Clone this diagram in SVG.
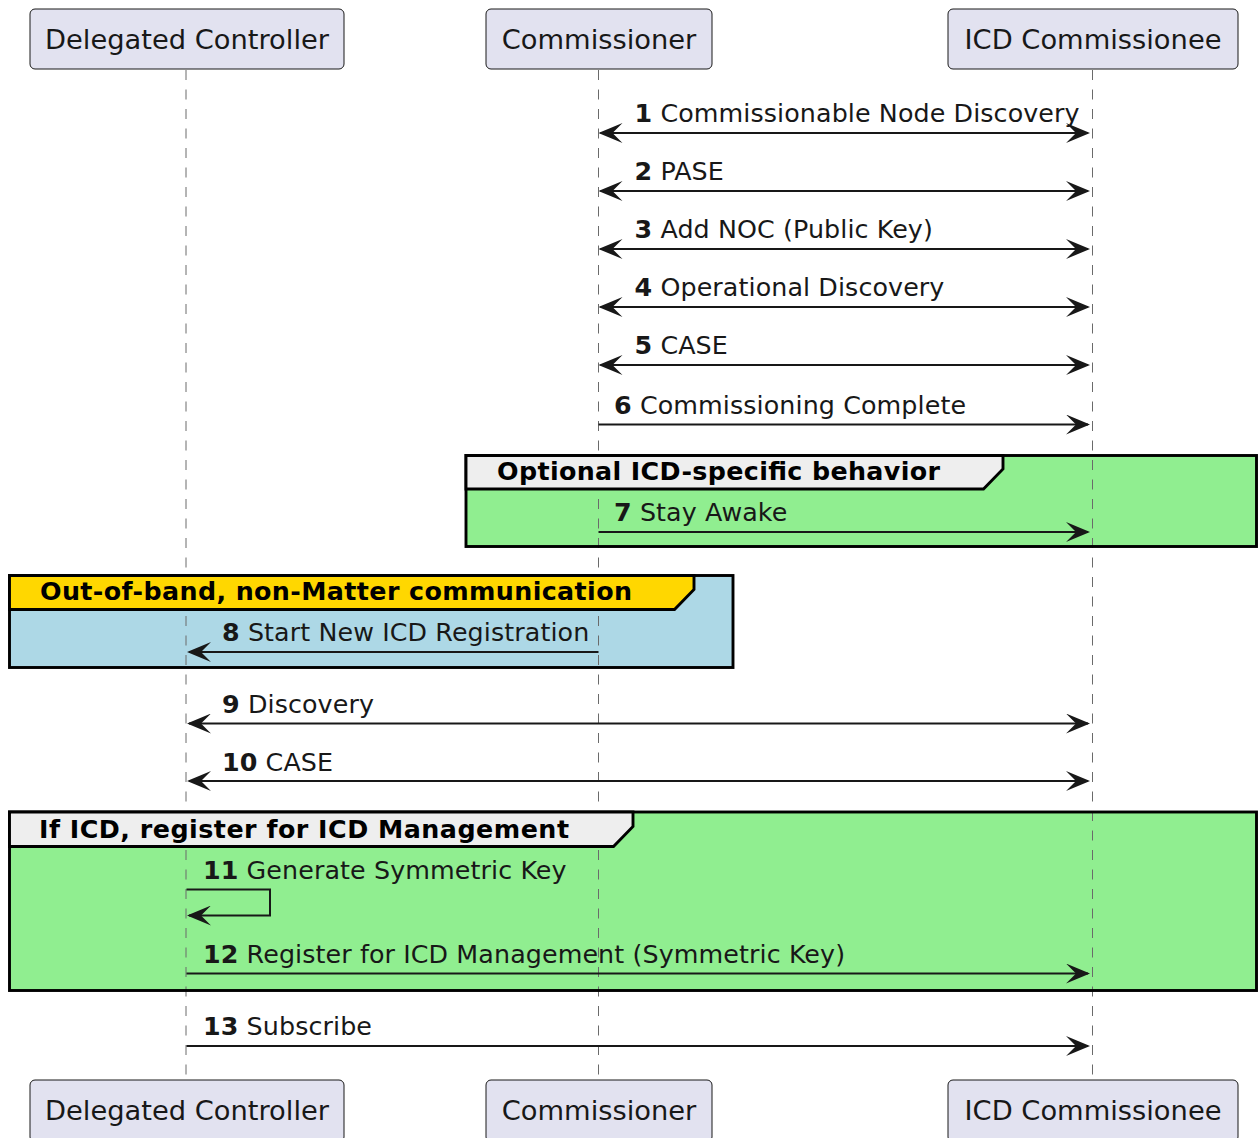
<svg xmlns="http://www.w3.org/2000/svg" width="1258" height="1138" viewBox="0 0 1258 1138">
<style>
.pbox{fill:#E2E2F0;stroke:#181818;stroke-width:1}
.pname{font-family:"DejaVu Sans",sans-serif;font-size:27.3px;fill:#181818;text-anchor:middle}
.life{stroke:#6a6a6a;stroke-width:1;stroke-dasharray:10,9.5;fill:none}
.fbody{stroke:none}
.fborder{fill:none;stroke:#000;stroke-width:2.9}
.fhead{stroke:#000;stroke-width:2.9}
.htext{font-family:"DejaVu Sans",sans-serif;font-size:25.35px;font-weight:bold;fill:#000}
.msg{stroke:#181818;stroke-width:2;fill:none}
.mtext{font-family:"DejaVu Sans",sans-serif;font-size:25.35px;fill:#181818;letter-spacing:0.1px}
.num{font-weight:bold}
</style>
<defs>
<marker id="ah" viewBox="0 0 24 20" refX="22" refY="10" markerWidth="24" markerHeight="20" markerUnits="userSpaceOnUse" orient="auto-start-reverse">
<polygon points="0,0 24,10 0,20 10,10" fill="#181818"/>
</marker>
</defs>
<rect width="1258" height="1138" fill="#fff"/>

<!-- frame bodies -->
<g id="frame-optional-body">
<rect class="fbody" x="466" y="455.5" width="790.5" height="91" fill="#90EE90"/>
</g>
<g id="frame-oob-body">
<rect class="fbody" x="9.5" y="575.5" width="723.5" height="92" fill="#ADD8E6"/>
</g>
<g id="frame-icd-body">
<rect class="fbody" x="9.5" y="812" width="1247" height="178.5" fill="#90EE90"/>
</g>

<!-- lifelines -->
<g id="lifelines">
<line class="life" x1="186" y1="70" x2="186" y2="1080"/>
<line class="life" x1="598.5" y1="70" x2="598.5" y2="1080"/>
<line class="life" x1="1092.5" y1="70" x2="1092.5" y2="1080"/>
</g>

<!-- frame borders and headers -->
<g id="frame-optional">
<rect class="fborder" x="466" y="455.5" width="790.5" height="91"/>
<path class="fhead" fill="#EEEEEE" d="M466,455.5 H1003 V469 L983.5,489 H466 Z"/>
<text class="htext" x="497" y="480" textLength="443" lengthAdjust="spacing">Optional ICD-specific behavior</text>
</g>
<g id="frame-oob">
<rect class="fborder" x="9.5" y="575.5" width="723.5" height="92"/>
<path class="fhead" fill="#FFD700" d="M9.5,575.5 H694 V589.5 L674.5,609.5 H9.5 Z"/>
<text class="htext" x="40" y="600" textLength="592" lengthAdjust="spacing">Out-of-band, non-Matter communication</text>
</g>
<g id="frame-icd">
<rect class="fborder" x="9.5" y="812" width="1247" height="178.5"/>
<path class="fhead" fill="#EEEEEE" d="M9.5,812 H633 V826.5 L613.5,846.5 H9.5 Z"/>
<text class="htext" x="39" y="837.5" textLength="530" lengthAdjust="spacing">If ICD, register for ICD Management</text>
</g>

<!-- participants -->
<g id="p-delegated-controller">
<rect class="pbox" x="30" y="9" width="314" height="60" rx="5"/>
<text class="pname" x="187" y="48.5">Delegated Controller</text>
<rect class="pbox" x="30" y="1080" width="314" height="62" rx="5"/>
<text class="pname" x="187" y="1119.5">Delegated Controller</text>
</g>
<g id="p-commissioner">
<rect class="pbox" x="486" y="9" width="226" height="60" rx="5"/>
<text class="pname" x="599" y="48.5">Commissioner</text>
<rect class="pbox" x="486" y="1080" width="226" height="62" rx="5"/>
<text class="pname" x="599" y="1119.5">Commissioner</text>
</g>
<g id="p-icd-commissionee">
<rect class="pbox" x="948" y="9" width="290" height="60" rx="5"/>
<text class="pname" x="1093" y="48.5">ICD Commissionee</text>
<rect class="pbox" x="948" y="1080" width="290" height="62" rx="5"/>
<text class="pname" x="1093" y="1119.5">ICD Commissionee</text>
</g>

<!-- connectors -->
<g id="connectors">
<line class="msg" x1="600.5" y1="133" x2="1088" y2="133" marker-start="url(#ah)" marker-end="url(#ah)"/>
<text class="mtext" x="634.5" y="122"><tspan class="num">1</tspan> Commissionable Node Discovery</text>

<line class="msg" x1="600.5" y1="191" x2="1088" y2="191" marker-start="url(#ah)" marker-end="url(#ah)"/>
<text class="mtext" x="634.5" y="180"><tspan class="num">2</tspan> PASE</text>

<line class="msg" x1="600.5" y1="249" x2="1088" y2="249" marker-start="url(#ah)" marker-end="url(#ah)"/>
<text class="mtext" x="634.5" y="238"><tspan class="num">3</tspan> Add NOC (Public Key)</text>

<line class="msg" x1="600.5" y1="307" x2="1088" y2="307" marker-start="url(#ah)" marker-end="url(#ah)"/>
<text class="mtext" x="634.5" y="296"><tspan class="num">4</tspan> Operational Discovery</text>

<line class="msg" x1="600.5" y1="365" x2="1088" y2="365" marker-start="url(#ah)" marker-end="url(#ah)"/>
<text class="mtext" x="634.5" y="354"><tspan class="num">5</tspan> CASE</text>

<line class="msg" x1="598.5" y1="424.5" x2="1088" y2="424.5" marker-end="url(#ah)"/>
<text class="mtext" x="614" y="413.5"><tspan class="num">6</tspan> Commissioning Complete</text>

<line class="msg" x1="598.5" y1="532" x2="1088" y2="532" marker-end="url(#ah)"/>
<text class="mtext" x="614" y="521"><tspan class="num">7</tspan> Stay Awake</text>

<line class="msg" x1="598.5" y1="652" x2="189" y2="652" marker-end="url(#ah)"/>
<text class="mtext" x="222" y="641"><tspan class="num">8</tspan> Start New ICD Registration</text>

<line class="msg" x1="189" y1="723.5" x2="1088" y2="723.5" marker-start="url(#ah)" marker-end="url(#ah)"/>
<text class="mtext" x="222" y="713"><tspan class="num">9</tspan> Discovery</text>

<line class="msg" x1="189" y1="781" x2="1088" y2="781" marker-start="url(#ah)" marker-end="url(#ah)"/>
<text class="mtext" x="222" y="771"><tspan class="num">10</tspan> CASE</text>

<path class="msg" d="M186.5,889.5 H270 V915.5 H189" marker-end="url(#ah)"/>
<text class="mtext" x="203" y="879"><tspan class="num">11</tspan> Generate Symmetric Key</text>

<line class="msg" x1="186.5" y1="973.5" x2="1088" y2="973.5" marker-end="url(#ah)"/>
<text class="mtext" x="203" y="963"><tspan class="num">12</tspan> Register for ICD Management (Symmetric Key)</text>

<line class="msg" x1="186.5" y1="1046" x2="1088" y2="1046" marker-end="url(#ah)"/>
<text class="mtext" x="203" y="1035"><tspan class="num">13</tspan> Subscribe</text>
</g>
</svg>
